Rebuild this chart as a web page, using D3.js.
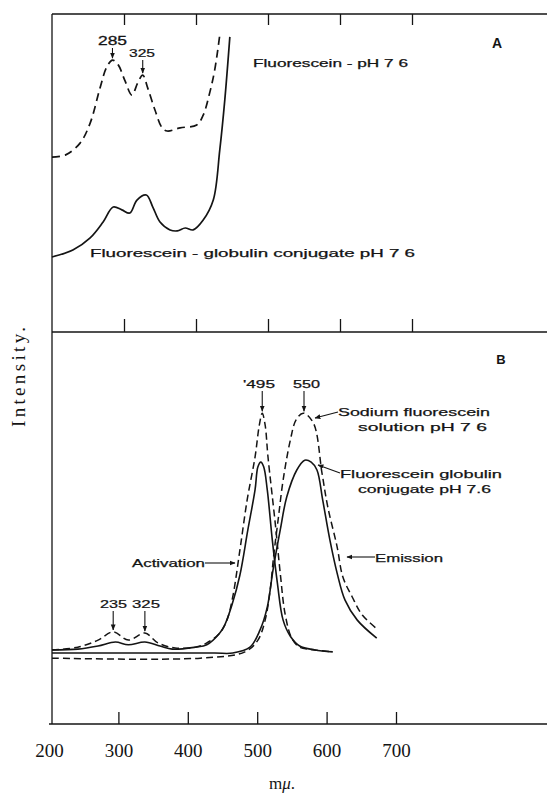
<!DOCTYPE html>
<html><head><meta charset="utf-8">
<script src="https://cdn.jsdelivr.net/npm/d3@7"></script>
<style>html,body{margin:0;padding:0;background:#fff;} svg{display:block}</style>
</head><body>
<svg id="c" width="547" height="793"></svg>
<script>
// ---------- data (wavelength in mμ, relative intensity) ----------
const xTickValues = [200, 300, 400, 500, 600, 700];
const frameTickValues = [300, 400, 500, 600, 700];

// Panel A
const aFluorescein = [[200,55.0],[219,55.7],[239,59.4],[253,65.7],[267,77.0],[276,83.3],[284,85.5],[292,84.0],[301,79.2],[311,74.5],[319,78.3],[326,80.8],[333,76.7],[343,69.8],[353,64.2],[360,63.2],[378,64.2],[401,65.1],[410,68.2],[419,75.2],[426,82.4],[433,93.4]];
const aConjugate = [[200,23.6],[229,25.8],[253,29.6],[271,34.6],[285,39.3],[297,38.4],[308,37.4],[318,41.5],[331,43.1],[340,39.3],[350,34.6],[364,32.1],[374,31.8],[385,32.7],[396,32.1],[410,35.2],[424,41.5],[433,57.2],[440,73.0],[447,92.8]];

// Panel B
const bActSodium = [[200,18.9],[236,19.6],[264,21.4],[285,23.5],[306,21.4],[329,23.2],[347,20.7],[371,19.4],[399,19.6],[415,20.7],[433,23.2],[443,26.5],[451,32.4],[461,44.4],[471,57.1],[482,68.1],[488,76.3],[492,79.3],[496,76.3],[500,68.1],[510,51.3],[517,38.5],[524,27.8],[533,21.9],[544,19.6],[565,18.9],[590,18.4]];
const bActConjugate = [[200,18.9],[236,19.1],[264,19.9],[288,20.9],[306,20.2],[329,20.9],[350,19.9],[367,19.1],[399,19.6],[415,20.2],[433,23.2],[440,25.3],[450,30.4],[461,38.0],[472,49.5],[482,59.7],[486,65.6],[490,66.8],[494,65.6],[499,59.7],[506,46.9],[513,36.0],[521,26.5],[531,22.4],[544,19.9],[565,18.9],[590,18.4]];
const bEmConjugate = [[200,18.1],[336,18.1],[426,18.1],[451,18.1],[475,19.6],[489,24.0],[499,29.8],[507,39.3],[517,49.5],[526,57.9],[540,64.8],[551,67.3],[560,66.8],[568,64.8],[576,57.1],[586,46.9],[596,38.5],[607,31.6],[624,26.5],[651,21.9]];
const bEmSodium = [[200,16.8],[406,16.8],[468,18.4],[486,21.4],[496,26.5],[503,34.2],[508,43.1],[514,52.0],[521,62.2],[531,72.4],[539,77.6],[549,79.3],[563,76.8],[575,64.0],[583,55.4],[596,45.2],[604,37.5],[617,32.4],[631,27.8],[653,24.0]];

// ---------- scales ----------
const W = 547;
const left = 52;
const x = d3.scaleLinear().domain([200, 700]).range([52, 412]);      // curves & frame ticks
const xAxis = d3.scaleLinear().domain([200, 700]).range([49, 396]);  // printed bottom scale
const yA = d3.scaleLinear().domain([0, 100]).range([332, 14]);
const yB = d3.scaleLinear().domain([0, 100]).range([724, 332]);

const svg = d3.select("#c");
const ink = "#141414";
const sans = "'Liberation Sans', 'DejaVu Sans', sans-serif";
const serif = "'Liberation Serif', 'DejaVu Serif', serif";

svg.append("defs").append("marker")
  .attr("id", "ah").attr("viewBox", "0 0 10 10").attr("refX", 9).attr("refY", 5)
  .attr("markerWidth", 6).attr("markerHeight", 6).attr("markerUnits", "userSpaceOnUse")
  .attr("orient", "auto")
  .append("path").attr("d", "M0,1 L10,5 L0,9 Z").attr("fill", ink);

// ---------- frame ----------
const frame = svg.append("g").attr("stroke", ink).attr("stroke-width", 1.3);
frame.append("line").attr("x1", left).attr("x2", left).attr("y1", 14).attr("y2", 724);
frame.append("line").attr("x1", left).attr("x2", W).attr("y1", 14).attr("y2", 14);
frame.append("line").attr("x1", left).attr("x2", W).attr("y1", 332).attr("y2", 332);
frame.append("line").attr("x1", 49).attr("x2", W).attr("y1", 724).attr("y2", 724);

function styleAxis(g) {
  g.select(".domain").remove();
  g.selectAll(".tick line").attr("stroke", ink).attr("stroke-width", 1.3);
}
svg.append("g").attr("transform", "translate(0,14)")
  .call(d3.axisTop(x).tickValues(frameTickValues).tickSizeInner(-11).tickSizeOuter(0).tickFormat(""))
  .call(styleAxis);
svg.append("g").attr("transform", "translate(0,332)")
  .call(d3.axisBottom(x).tickValues(frameTickValues).tickSizeInner(-13).tickSizeOuter(0).tickFormat(""))
  .call(styleAxis);
const bottomAxis = svg.append("g").attr("transform", "translate(0,724)")
  .call(d3.axisBottom(xAxis).tickValues(xTickValues).tickSizeInner(-12).tickSizeOuter(0).tickFormat(d3.format("d")))
  .call(styleAxis);
bottomAxis.selectAll(".tick text").attr("y", 33).attr("dy", null)
  .attr("font-family", serif).attr("font-size", 19).attr("fill", ink);
bottomAxis.selectAll(".tick").filter(d => d === 200).select("line").remove();

// ---------- curves ----------
const lineA = d3.line().x(d => x(d[0])).y(d => yA(d[1])).curve(d3.curveCatmullRom.alpha(0.5));
const lineB = d3.line().x(d => x(d[0])).y(d => yB(d[1])).curve(d3.curveCatmullRom.alpha(0.5));

const curves = [
  {data: aFluorescein, gen: lineA, dash: "8,5", w: 1.7},
  {data: aConjugate, gen: lineA, dash: null, w: 1.7},
  {data: bActSodium, gen: lineB, dash: "7,4", w: 1.5},
  {data: bActConjugate, gen: lineB, dash: null, w: 1.6},
  {data: bEmConjugate, gen: lineB, dash: null, w: 1.6},
  {data: bEmSodium, gen: lineB, dash: "7,4", w: 1.5}
];
svg.append("g").selectAll("path").data(curves).join("path")
  .attr("d", c => c.gen(c.data))
  .attr("fill", "none").attr("stroke", ink)
  .attr("stroke-width", c => c.w)
  .attr("stroke-dasharray", c => c.dash)
  .attr("stroke-linejoin", "round");

// ---------- annotations ----------
function txt(s, xx, yy, opt = {}) {
  const t = svg.append("text").attr("x", xx).attr("y", yy)
    .attr("font-family", opt.family || sans).attr("font-size", opt.size || 11)
    .attr("font-weight", opt.weight || "normal").attr("fill", ink)
    .attr("text-anchor", opt.anchor || "start").text(s);
  if (opt.len) t.attr("textLength", opt.len).attr("lengthAdjust", "spacingAndGlyphs");
  if (opt.stroke) t.attr("stroke", ink).attr("stroke-width", opt.stroke);
  return t;
}
function arrow(x1, y1, x2, y2) {
  svg.append("line").attr("x1", x1).attr("y1", y1).attr("x2", x2).attr("y2", y2)
    .attr("stroke", ink).attr("stroke-width", 1.1).attr("marker-end", "url(#ah)");
}

// Panel A
txt("285", 98, 45, {size: 12, len: 29, stroke: 0.3});
arrow(x(284), 48, x(284), yA(85.5) - 2);
txt("325", 129, 57, {size: 10.5, len: 26, stroke: 0.2});
arrow(x(326), 60, x(326), yA(80.8) - 2);
txt("Fluorescein - pH 7 6", 253, 67, {size: 10.5, len: 155, stroke: 0.25});
txt("A", 497, 48, {size: 14, weight: "bold", anchor: "middle"});
txt("Fluorescein - globulin  conjugate  pH  7 6", 90, 257, {size: 11, len: 325, stroke: 0.25});

// Panel B
txt("B", 501, 364, {size: 13, weight: "bold", anchor: "middle"});
txt("'495", 243, 388, {size: 11, len: 32, stroke: 0.25});
arrow(x(492), 391, x(492), yB(79.3) - 2);
txt("550", 293, 388, {size: 11, len: 27, stroke: 0.25});
arrow(x(550), 391, x(550), yB(79.3) - 2);
txt("235", 100, 608, {size: 10, len: 27, stroke: 0.2});
arrow(x(285), 611, x(285), yB(23.5) - 2);
txt("325", 132, 608, {size: 10, len: 28, stroke: 0.2});
arrow(x(329), 611, x(329), yB(23.2) - 2);

txt("Sodium  fluorescein", 338, 416, {size: 11.5, len: 152, stroke: 0.25});
txt("solution  pH  7  6", 358, 431, {size: 11.5, len: 129, stroke: 0.25});
arrow(338, 412, 315, 418);
txt("Fluorescein  globulin", 340, 478, {size: 11.5, len: 162, stroke: 0.25});
txt("conjugate  pH  7.6", 358, 493, {size: 11.5, len: 133, stroke: 0.25});
arrow(340, 473, 318, 465);
txt("Emission", 375, 562, {size: 11, len: 68, stroke: 0.25});
arrow(375, 557, 347, 557);
txt("Activation", 132, 567, {size: 11, len: 73, stroke: 0.25});
arrow(205, 563, 235, 563);

// axis titles
svg.append("text").attr("transform", "translate(25,377) rotate(-90)")
  .attr("text-anchor", "middle").attr("font-family", serif).attr("font-size", 19)
  .attr("fill", ink).attr("textLength", 100).attr("lengthAdjust", "spacing")
  .text("Intensity.");
const mu = svg.append("text").attr("x", 282).attr("y", 789).attr("text-anchor", "middle")
  .attr("font-family", serif).attr("font-size", 17).attr("fill", ink);
mu.append("tspan").text("m");
mu.append("tspan").attr("font-style", "italic").text("μ");
mu.append("tspan").text(".");
</script>
</body></html>
